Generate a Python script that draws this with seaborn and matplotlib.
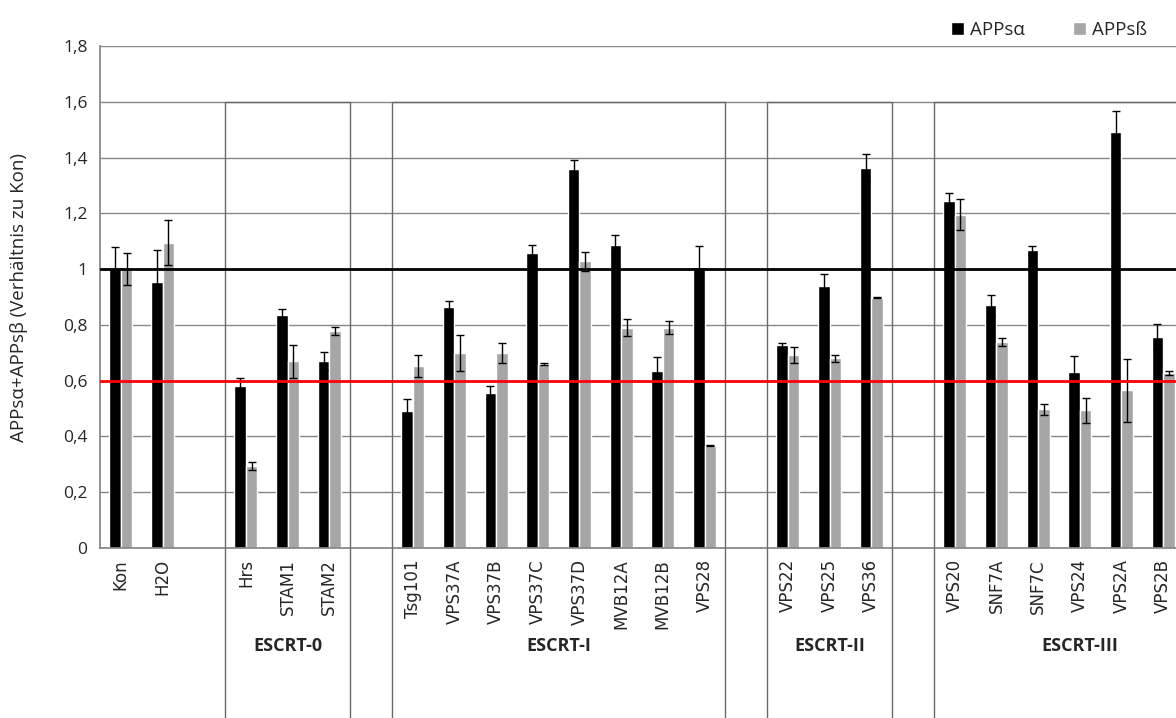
"""
ESCRT knockdown screen: APPs alpha and APPs beta relative to control,
grouped bars with error bars and ESCRT complex boxes.
"""
import numpy as np
import pandas as pd
import seaborn as sns
import matplotlib.pyplot as plt

sns.set_theme(style='white')
plt.rcParams['font.family'] = ['Open Sans', 'DejaVu Sans']

# data
genes = ['Kon', 'H2O', 'Hrs', 'STAM1', 'STAM2', 'Tsg101', 'VPS37A',
         'VPS37B', 'VPS37C', 'VPS37D', 'MVB12A', 'MVB12B', 'VPS28',
         'VPS22', 'VPS25', 'VPS36', 'VPS20', 'SNF7A', 'SNF7C', 'VPS24',
         'VPS2A', 'VPS2B']
alpha = [1.00, 0.953, 0.582, 0.834, 0.670, 0.490, 0.865, 0.557, 1.058,
         1.359, 1.087, 0.636, 1.008, 0.727, 0.941, 1.364, 1.245, 0.872,
         1.067, 0.630, 1.490, 0.757]
alpha_err = [0.078, 0.116, 0.027, 0.023, 0.032, 0.044, 0.020, 0.024,
             0.028, 0.034, 0.036, 0.050, 0.074, 0.007, 0.041, 0.048,
             0.027, 0.035, 0.017, 0.060, 0.076, 0.045]
beta = [1.00, 1.095, 0.294, 0.669, 0.777, 0.653, 0.699, 0.699, 0.660,
        1.028, 0.790, 0.790, 0.367, 0.692, 0.680, 0.898, 1.195, 0.739,
        0.498, 0.494, 0.565, 0.629]
beta_err = [0.057, 0.080, 0.015, 0.059, 0.014, 0.040, 0.064, 0.035,
            0.003, 0.034, 0.031, 0.024, 0.003, 0.030, 0.013, 0.002,
            0.055, 0.013, 0.020, 0.045, 0.114, 0.007]
forms = ['APPsα', 'APPsß']

controls = ['Kon', 'H2O']
groups = {
    'ESCRT-0': ['Hrs', 'STAM1', 'STAM2'],
    'ESCRT-I': ['Tsg101', 'VPS37A', 'VPS37B', 'VPS37C', 'VPS37D',
                'MVB12A', 'MVB12B', 'VPS28'],
    'ESCRT-II': ['VPS22', 'VPS25', 'VPS36'],
    'ESCRT-III': ['VPS20', 'SNF7A', 'SNF7C', 'VPS24', 'VPS2A', 'VPS2B'],
}
y_ticks = [0, 0.2, 0.4, 0.6, 0.8, 1.0, 1.2, 1.4, 1.6, 1.8]
y_labels = ['0', '0,2', '0,4', '0,6', '0,8', '1', '1,2', '1,4', '1,6', '1,8']

# slot order on the x axis, with an empty slot in front of every group
order = list(controls)
for i, members in enumerate(groups.values()):
    order += ['gap%d' % i] + members

n = len(genes)
df = pd.DataFrame({
    'gene': genes * 2,
    'form': [forms[0]] * n + [forms[1]] * n,
    'value': alpha + beta,
    'err': alpha_err + beta_err,
})

grid_color = '#868686'
fig = plt.figure(figsize=(11.76, 7.18), dpi=100)
ax = fig.add_axes([100 / 1176, 170 / 718, 1084 / 1176, 502 / 718])

sns.barplot(data=df, x='gene', y='value', hue='form', order=order,
            hue_order=forms, palette=['#000000', '#A6A6A6'], width=0.55,
            saturation=1, errorbar=None, ax=ax)

# error bars placed on the bars seaborn drew
err_lookup = df.set_index(['gene', 'form'])['err']
for form, cont in zip(forms, ax.containers):
    for bar in cont:
        h = bar.get_height()
        if np.isnan(h):
            continue
        xc = bar.get_x() + bar.get_width() / 2
        gene = order[int(round(xc))]
        ax.errorbar(xc, h, yerr=err_lookup[(gene, form)], fmt='none',
                    ecolor='black', elinewidth=1, capsize=3,
                    capthick=1, zorder=4)

ax.axhline(1.0, color='black', lw=2, zorder=5)
ax.axhline(0.6, color='#FF0000', lw=2, zorder=5)

ax.set_xlim(-0.5, len(order) - 0.5)
ax.set_ylim(0, 1.8)
ax.set_yticks(y_ticks, y_labels)
ax.yaxis.grid(True, color=grid_color, lw=1)
ax.set_axisbelow(True)
for side in ['top', 'right']:
    ax.spines[side].set_visible(False)
for side in ['left', 'bottom']:
    ax.spines[side].set_color(grid_color)

ax.set_xticks(np.arange(-0.5, len(order)), [''] * (len(order) + 1))
slot_labels = ['' if g.startswith('gap') else g for g in order]
ax.set_xticks(np.arange(len(order)), slot_labels, minor=True)
ax.tick_params(axis='x', which='major', length=6, color=grid_color,
               direction='out')
ax.tick_params(axis='x', which='minor', length=0, pad=8,
               labelrotation=90, labelsize=12)
for lbl in ax.get_xticklabels(minor=True):
    lbl.set_fontfamily('DejaVu Sans')
ax.tick_params(axis='y', length=4, color=grid_color, direction='out',
               labelsize=12.5, pad=5)

ax.set_xlabel('')
ax.set_ylabel('APPsα+APPsβ (Verhältnis zu Kon)', fontsize=13.5)
ax.yaxis.set_label_coords(-0.066, 0.5)

# ESCRT complex boxes reaching down under the labels
box_color = '#6a6a6a'
for name, members in groups.items():
    x0 = order.index(members[0]) - 0.5
    x1 = order.index(members[-1]) + 0.5
    if name == 'ESCRT-III':
        x1 += 1
    ax.plot([x0, x0, x1, x1], [-0.62, 1.6, 1.6, -0.62], color=box_color,
            lw=1, clip_on=False, zorder=3)
    ax.text((x0 + x1) / 2, -0.35, name, ha='center', va='center',
            fontsize=13, fontweight='bold')

handles, labels = ax.get_legend_handles_labels()
ax.get_legend().remove()
fig.legend(handles, labels, loc='upper right',
           bbox_to_anchor=(1164 / 1176, 1 - 4 / 718), ncol=2,
           frameon=False, handlelength=0.7, handleheight=0.7,
           handletextpad=0.3, columnspacing=2.6, fontsize=13.5)

fig.savefig('out.png', dpi=100)
